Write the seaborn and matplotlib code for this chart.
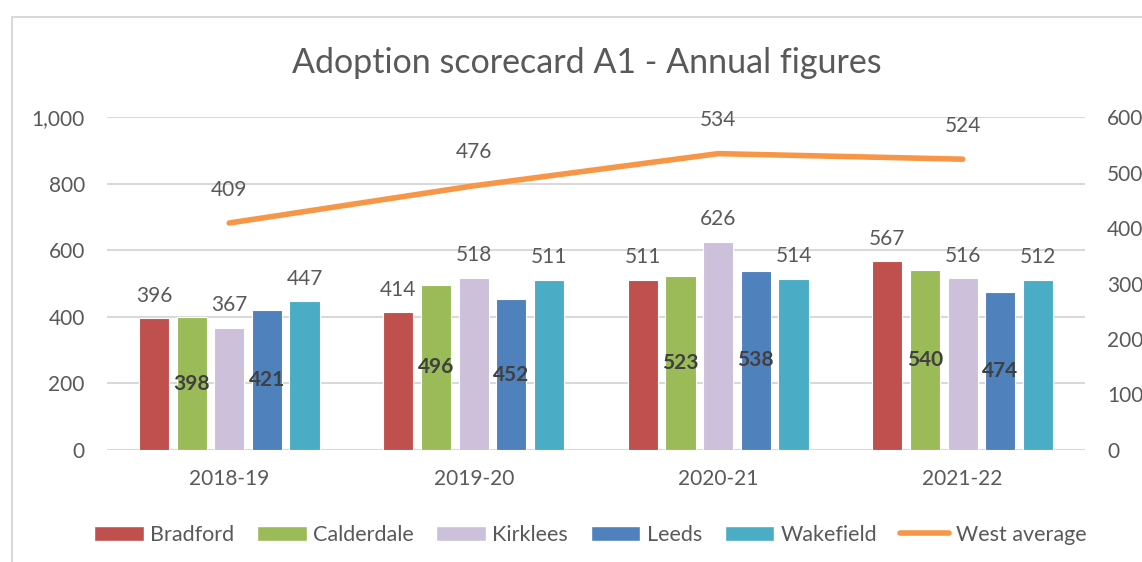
import matplotlib.pyplot as plt
import matplotlib.patches as mpatches
import matplotlib.lines as mlines
from matplotlib.ticker import FuncFormatter, MultipleLocator
import numpy as np
import pandas as pd
import seaborn as sns

# Data
years = ['2018-19', '2019-20', '2020-21', '2021-22']
bradford = [396, 414, 511, 567]
calderdale = [398, 496, 523, 540]
kirklees = [367, 518, 626, 516]
leeds = [421, 452, 538, 474]
wakefield = [447, 511, 514, 512]
west_avg = [409, 476, 534, 524]

areas = ['Bradford', 'Calderdale', 'Kirklees', 'Leeds', 'Wakefield']
colours = ['#C0504D', '#9BBB59', '#CCC0DA', '#4F81BD', '#4BACC6']
line_colour = '#F79646'
text_colour = '#595959'
grid_colour = '#D9D9D9'

df = pd.DataFrame({'year': years, 'Bradford': bradford, 'Calderdale': calderdale,
                   'Kirklees': kirklees, 'Leeds': leeds, 'Wakefield': wakefield})
df_long = df.melt(id_vars='year', var_name='area', value_name='value')

sns.set_theme(style='white')
plt.rcParams['font.family'] = ['Lato', 'DejaVu Sans']

fig = plt.figure(figsize=(11.42, 5.62), dpi=100)
ax = fig.add_axes([0.0937, 0.1993, 0.8563, 0.5925])

sns.barplot(df_long, x='year', y='value', hue='area', hue_order=areas,
            palette=colours, saturation=1, width=0.77, gap=0.2, errorbar=None,
            edgecolor='white', linewidth=0.8, legend=False, ax=ax)

ax.set_ylim(0, 1000)
ax.set_xlim(-0.5, len(years) - 0.5)
ax.yaxis.set_major_locator(MultipleLocator(200))
ax.yaxis.set_major_formatter(FuncFormatter(lambda v, p: f'{int(v):,}'))
ax.grid(axis='y', color=grid_colour, linewidth=1.5)
ax.set_axisbelow(True)
ax.set(xlabel='', ylabel='')
for s in ax.spines.values():
    s.set_visible(False)
ax.tick_params(axis='both', length=0, labelsize=15, labelcolor=text_colour)
ax.tick_params(axis='y', pad=16)
ax.tick_params(axis='x', pad=14)

# bar labels
for cont, area in zip(ax.containers, areas):
    if area in ('Calderdale', 'Leeds'):
        ax.bar_label(cont, label_type='center', fontsize=15, fontweight='bold',
                     color='#404040')
    else:
        ax.bar_label(cont, label_type='edge', padding=9, fontsize=15,
                     color=text_colour)

# secondary axis line
ax2 = ax.twinx()
xs = np.arange(len(years))
sns.lineplot(x=xs, y=west_avg, color=line_colour, linewidth=4, ax=ax2,
             solid_capstyle='round')
ax2.set_ylim(0, 600)
ax2.set_xlim(-0.5, len(years) - 0.5)
ax2.yaxis.set_major_locator(MultipleLocator(100))
for s in ax2.spines.values():
    s.set_visible(False)
ax2.tick_params(axis='y', length=0, labelsize=15, labelcolor=text_colour, pad=16)
for x, v in zip(xs, west_avg):
    ax2.annotate(str(v), (x, v), xytext=(0, 24), textcoords='offset points',
                 ha='center', va='center', fontsize=15, color=text_colour)

fig.suptitle('Adoption scorecard A1 - Annual figures', x=0.514, y=0.888,
             va='center', fontsize=24.5, color=text_colour)

# legend
handles = [mpatches.Patch(facecolor=c, edgecolor='white', label=a)
           for a, c in zip(areas, colours)]
handles.append(mlines.Line2D([], [], color=line_colour, linewidth=4,
                             solid_capstyle='round', label='West average'))
fig.legend(handles=handles, loc='center', bbox_to_anchor=(0.517, 0.048),
           ncol=6, frameon=False, fontsize=15.5, labelcolor=text_colour,
           handlelength=2.3, handleheight=0.7, handletextpad=0.3,
           columnspacing=1.05)

# chart frame
fig.patches.append(mpatches.Rectangle((0.0105, -0.1), 1.2, 1.0698,
                                      transform=fig.transFigure, fill=False,
                                      edgecolor=grid_colour, linewidth=1.5))

fig.savefig('out.png', dpi=100)
